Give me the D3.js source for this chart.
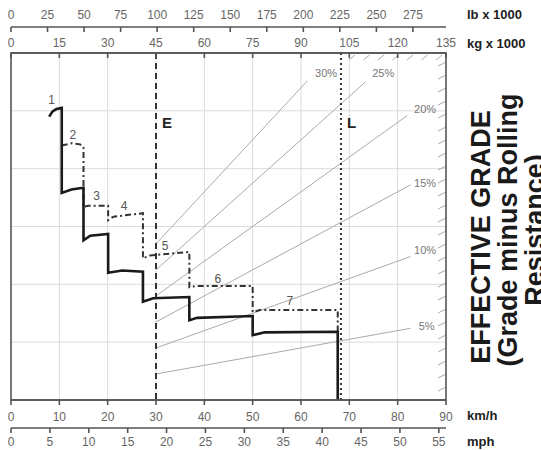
<!DOCTYPE html>
<html><head><meta charset="utf-8">
<script src="https://cdn.jsdelivr.net/npm/d3@7"></script>
<style>
html,body{margin:0;padding:0;background:#fff;}
svg{display:block;font-family:"Liberation Sans",Arial,Helvetica,sans-serif;}
</style></head>
<body>
<script>
// ---------- DATA ----------
const kmhTicks = [0,10,20,30,40,50,60,70,80,90];
const mphTicks = [0,5,10,15,20,25,30,35,40,45,50,55];
const kgTicks  = [0,15,30,45,60,75,90,105,120,135];
const lbTicks  = [0,25,50,75,100,125,150,175,200,225,250,275];
const rimpullGrid = [5,10,15,20,25];
const grades = [5,10,15,20,25,30];
const gradeLabels = ["5%","10%","15%","20%","25%","30%"];
const gradeEndWeight = [124,124,124,123,110,92];
const gradeLabelWeight = [129,128.5,128.5,128.5,115.5,97.8];
const gradeLabelRimpull = [6.4,13.0,18.8,25.2,28.3,28.3];
const emptyWeight = 45;     // t (E)
const loadedWeight = 102.4; // t (L)

// solid curve, per gear: [km/h, rimpull t]
const solidGears = [
  [[7.9,24.5],[8.6,24.95],[9.4,25.15],[10.5,25.25]],
  [[10.5,17.9],[12.5,18.2],[15.0,18.35]],
  [[15.0,13.8],[16.4,14.2],[20.1,14.35]],
  [[20.1,11.0],[23.0,11.2],[27.3,11.1]],
  [[27.3,8.5],[29.4,8.8],[36.9,8.9]],
  [[36.9,6.9],[38.5,7.1],[50.0,7.26]],
  [[50.0,5.6],[52.5,5.85],[67.6,5.9]]
];
const solidEnd = [67.6, 0];

// dash-dot curve, per gear
const dashGears = [
  [[10.5,22.0],[12.6,22.2],[14.3,22.1],[15.0,21.85]],
  [[15.0,16.7],[16.0,16.8],[20.1,16.8]],
  [[20.1,15.55],[21.2,15.85],[27.3,16.15]],
  [[27.3,12.25],[28.8,12.5],[36.9,12.8]],
  [[36.9,9.75],[38.4,9.86],[50.0,9.86]],
  [[50.0,7.6],[51.5,7.78],[67.6,7.78]]
];
const dashEnd = [67.6, 5.9];

const gearLabels = ["1","2","3","4","5","6","7"];
const gearLabelSpeed = [8.4,12.8,17.7,23.4,31.9,42.8,57.7];
const gearLabelRimpull = [25.9,22.9,17.6,16.8,13.3,10.5,8.6];

const titleLines = ["EFFECTIVE GRADE","(Grade minus Rolling","Resistance)"];

// ---------- LAYOUT ----------
const W = 541, H = 450;
const L = 11, R = 446, T = 53, B = 400;

const svg = d3.select("body").append("svg").attr("width",W).attr("height",H);

const x = d3.scaleLinear().domain([0,90]).range([L,R]);          // km/h
const xKg = d3.scaleLinear().domain([0,135]).range([L,R]);       // t
const xMph = d3.scaleLinear().domain([0,90/1.609344]).range([L,R]);
const xLb = d3.scaleLinear().domain([0,135/0.45359237]).range([L,R]);
const y = d3.scaleLinear().domain([0,30]).range([B,T]);

const tickCol = "#666", axisCol = "#555";

// grid
svg.append("g").selectAll("line").data(kmhTicks.filter(d=>d>0&&d<90)).join("line")
  .attr("x1",d=>x(d)).attr("x2",d=>x(d)).attr("y1",T).attr("y2",B)
  .attr("stroke","#dcdcdc").attr("stroke-width",1);
svg.append("g").selectAll("line").data(rimpullGrid).join("line")
  .attr("x1",L).attr("x2",R).attr("y1",d=>y(d)).attr("y2",d=>y(d))
  .attr("stroke","#dcdcdc").attr("stroke-width",1);

// grade lines
const gl = svg.append("g");
grades.forEach((g,i)=>{
  gl.append("line")
    .attr("x1",xKg(emptyWeight)).attr("y1",y(emptyWeight*g/100))
    .attr("x2",xKg(gradeEndWeight[i])).attr("y2",y(gradeEndWeight[i]*g/100))
    .attr("stroke","#aaa").attr("stroke-width",1);
  gl.append("text")
    .attr("x",xKg(gradeLabelWeight[i])).attr("y",y(gradeLabelRimpull[i])+4)
    .attr("text-anchor","middle").attr("font-size",11).attr("fill","#777")
    .text(gradeLabels[i]);
});

// hatching (top-right and right border)
const hatch = svg.append("g").attr("stroke","#aaa").attr("stroke-width",1);
d3.range(349, 442, 14.5).forEach(hx=>{
  hatch.append("line").attr("x1",hx).attr("y1",60).attr("x2",hx+6).attr("y2",55);
});
d3.range(64, 398, 13).forEach(hy=>{
  hatch.append("line").attr("x1",438).attr("y1",hy+2).attr("x2",R).attr("y2",hy-2);
});

// E and L lines
svg.append("line").attr("x1",xKg(emptyWeight)).attr("x2",xKg(emptyWeight))
  .attr("y1",T).attr("y2",B).attr("stroke","#333").attr("stroke-width",2)
  .attr("stroke-dasharray","6,4");
svg.append("line").attr("x1",xKg(loadedWeight)).attr("x2",xKg(loadedWeight))
  .attr("y1",T).attr("y2",B).attr("stroke","#333").attr("stroke-width",2)
  .attr("stroke-dasharray","2,3");
svg.append("text").attr("x",xKg(emptyWeight)+6).attr("y",128)
  .attr("font-size",15).attr("font-weight","bold").attr("fill","#222").text("E");
svg.append("text").attr("x",xKg(loadedWeight)+6).attr("y",128)
  .attr("font-size",15).attr("font-weight","bold").attr("fill","#222").text("L");

// curves
const line = d3.line().x(d=>x(d[0])).y(d=>y(d[1]));
const solidPts = solidGears.flat().concat([solidEnd]);
const dashPts = dashGears.flat().concat([dashEnd]);
svg.append("path").attr("d",line(dashPts)).attr("fill","none")
  .attr("stroke","#333").attr("stroke-width",2).attr("stroke-dasharray","6,3,2,3");
svg.append("path").attr("d",line(solidPts)).attr("fill","none")
  .attr("stroke","#1a1a1a").attr("stroke-width",2.6);

// gear labels
svg.append("g").selectAll("text").data(gearLabels).join("text")
  .attr("x",(d,i)=>x(gearLabelSpeed[i])).attr("y",(d,i)=>y(gearLabelRimpull[i])+4)
  .attr("text-anchor","middle").attr("font-size",12).attr("fill","#555").text(d=>d);

// frame
svg.append("rect").attr("x",L).attr("y",T).attr("width",R-L).attr("height",B-T)
  .attr("fill","none").attr("stroke",axisCol).attr("stroke-width",1.6);

// axes
function hAxis(scale, ticks, lineY, labelY, tickDir){
  const g = svg.append("g");
  g.append("line").attr("x1",L).attr("x2",R).attr("y1",lineY).attr("y2",lineY)
    .attr("stroke",axisCol).attr("stroke-width",1.6);
  g.selectAll("line.t").data(ticks).join("line").attr("class","t")
    .attr("x1",d=>scale(d)).attr("x2",d=>scale(d))
    .attr("y1",lineY).attr("y2",lineY+tickDir*5)
    .attr("stroke",axisCol).attr("stroke-width",1.6);
  g.selectAll("text").data(ticks).join("text")
    .attr("x",d=>scale(d)).attr("y",labelY)
    .attr("text-anchor","middle").attr("font-size",12).attr("fill",tickCol).text(d=>d);
}
hAxis(xLb, lbTicks, 27, 19, 1);
hAxis(xKg, kgTicks, T, 47, 1);
hAxis(x, kmhTicks, B, 421, 1);
hAxis(xMph, mphTicks, 428, 446, 1);

// unit labels
const units = [["lb x 1000",19],["kg x 1000",48],["km/h",420],["mph",446]];
svg.append("g").selectAll("text").data(units).join("text")
  .attr("x",467).attr("y",d=>d[1]).attr("font-size",13).attr("font-weight","bold")
  .attr("fill","#222").text(d=>d[0]);

// right title
const titleX = [490,517,544];
const titleY = [237,230,230];
titleLines.forEach((t,i)=>{
  svg.append("text").attr("transform",`translate(${titleX[i]},${titleY[i]}) rotate(-90)`)
    .attr("text-anchor","middle").attr("font-size",27).attr("font-weight","bold")
    .attr("fill","#1a1a1a").text(t);
});
</script>
</body></html>
